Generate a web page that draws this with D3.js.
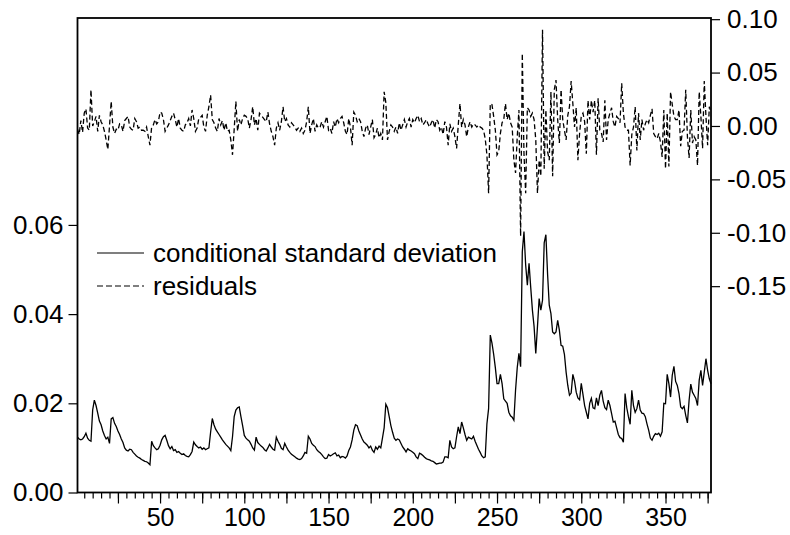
<!DOCTYPE html>
<html>
<head>
<meta charset="utf-8">
<script src="https://cdn.jsdelivr.net/npm/d3@7"></script>
<style>
  body { margin: 0; background: #fff; }
  text { font-family: "Liberation Sans", Arial, sans-serif; fill: #000; }
</style>
</head>
<body>
<script>
// conditional standard deviation, observations 1..377 (left scale)
const sdVals = [
  0.0124, 0.0120, 0.0118, 0.0120, 0.0125, 0.0133, 0.0122, 0.0117, 0.0115, 0.0185,
  0.0207, 0.0195, 0.0178, 0.0160, 0.0152, 0.0138, 0.0128, 0.0120, 0.0124, 0.0110,
  0.0165, 0.0168, 0.0155, 0.0148, 0.0138, 0.0130, 0.0120, 0.0112, 0.0100, 0.0095,
  0.0093, 0.0097, 0.0096, 0.0090, 0.0086, 0.0082, 0.0079, 0.0077, 0.0074, 0.0072,
  0.0070, 0.0069, 0.0066, 0.0062, 0.0115, 0.0105, 0.0100, 0.0096, 0.0098, 0.0106,
  0.0118, 0.0125, 0.0128, 0.0117, 0.0105, 0.0098, 0.0103, 0.0094, 0.0096, 0.0090,
  0.0092, 0.0088, 0.0085, 0.0087, 0.0083, 0.0081, 0.0080, 0.0085, 0.0092, 0.0113,
  0.0107, 0.0103, 0.0100, 0.0102, 0.0097, 0.0100, 0.0096, 0.0098, 0.0100, 0.0135,
  0.0166, 0.0152, 0.0142, 0.0136, 0.0130, 0.0124, 0.0118, 0.0113, 0.0108, 0.0104,
  0.0100, 0.0094, 0.0125, 0.0170, 0.0185, 0.0190, 0.0192, 0.0170, 0.0150, 0.0128,
  0.0122, 0.0118, 0.0115, 0.0108, 0.0100, 0.0095, 0.0124, 0.0112, 0.0108, 0.0104,
  0.0101, 0.0096, 0.0093, 0.0100, 0.0108, 0.0102, 0.0097, 0.0095, 0.0124, 0.0115,
  0.0108, 0.0099, 0.0096, 0.0110, 0.0102, 0.0095, 0.0090, 0.0086, 0.0083, 0.0080,
  0.0077, 0.0075, 0.0074, 0.0076, 0.0082, 0.0090, 0.0088, 0.0126, 0.0120, 0.0110,
  0.0106, 0.0103, 0.0096, 0.0092, 0.0089, 0.0085, 0.0080, 0.0076, 0.0077, 0.0085,
  0.0082, 0.0084, 0.0087, 0.0089, 0.0082, 0.0084, 0.0078, 0.0081, 0.0080, 0.0077,
  0.0082, 0.0094, 0.0102, 0.0118, 0.0140, 0.0152, 0.0150, 0.0138, 0.0129, 0.0120,
  0.0113, 0.0110, 0.0106, 0.0100, 0.0104, 0.0095, 0.0090, 0.0102, 0.0097, 0.0104,
  0.0100, 0.0122, 0.0145, 0.0198, 0.0190, 0.0170, 0.0150, 0.0135, 0.0122, 0.0117,
  0.0120, 0.0118, 0.0110, 0.0102, 0.0097, 0.0091, 0.0098, 0.0095, 0.0093, 0.0090,
  0.0087, 0.0080, 0.0076, 0.0088, 0.0086, 0.0083, 0.0079, 0.0076, 0.0074, 0.0073,
  0.0071, 0.0070, 0.0067, 0.0064, 0.0065, 0.0066, 0.0066, 0.0068, 0.0080, 0.0080,
  0.0078, 0.0117, 0.0102, 0.0098, 0.0100, 0.0125, 0.0147, 0.0132, 0.0158, 0.0145,
  0.0130, 0.0117, 0.0124, 0.0122, 0.0120, 0.0126, 0.0115, 0.0106, 0.0097, 0.0090,
  0.0082, 0.0078, 0.0080, 0.0154, 0.0188, 0.0353, 0.0335, 0.0310, 0.0280, 0.0244,
  0.0244, 0.0265, 0.0244, 0.0210, 0.0205, 0.0200, 0.0180, 0.0172, 0.0169, 0.0162,
  0.0230, 0.0280, 0.0312, 0.0282, 0.0540, 0.0585, 0.0510, 0.0465, 0.0514, 0.0460,
  0.0409, 0.0372, 0.0312, 0.0372, 0.0435, 0.0409, 0.0431, 0.0560, 0.0578, 0.0490,
  0.0420, 0.0401, 0.0360, 0.0356, 0.0360, 0.0386, 0.0364, 0.0330, 0.0328, 0.0310,
  0.0270, 0.0240, 0.0218, 0.0223, 0.0265, 0.0250, 0.0225, 0.0212, 0.0208, 0.0245,
  0.0220, 0.0195, 0.0180, 0.0165, 0.0200, 0.0211, 0.0190, 0.0188, 0.0212, 0.0195,
  0.0218, 0.0229, 0.0205, 0.0190, 0.0186, 0.0207, 0.0195, 0.0177, 0.0158, 0.0160,
  0.0145, 0.0130, 0.0123, 0.0121, 0.0113, 0.0222, 0.0190, 0.0170, 0.0153, 0.0229,
  0.0195, 0.0180, 0.0188, 0.0207, 0.0185, 0.0178, 0.0177, 0.0170, 0.0154, 0.0140,
  0.0122, 0.0117, 0.0126, 0.0132, 0.0130, 0.0133, 0.0126, 0.0136, 0.0200, 0.0199,
  0.0265, 0.0244, 0.0214, 0.0263, 0.0283, 0.0249, 0.0240, 0.0222, 0.0192, 0.0188,
  0.0193, 0.0173, 0.0156, 0.0207, 0.0243, 0.0225, 0.0218, 0.0211, 0.0195, 0.0252,
  0.0274, 0.0240, 0.0270, 0.0300, 0.0274, 0.0255, 0.0244
];

// residuals, same observations (right scale)
const residVals = [
  -0.003, -0.008, 0.005, -0.006, 0.012, 0.016, -0.002, -0.004, 0.034, 0.000,
  0.004, 0.009, -0.005, 0.010, 0.004, 0.001, -0.005, -0.013, -0.022, 0.000,
  0.023, -0.001, -0.007, -0.003, -0.004, 0.002, 0.001, -0.005, 0.005, 0.007,
  0.009, -0.001, -0.003, -0.004, 0.007, 0.004, -0.002, -0.001, -0.004, -0.004,
  -0.005, -0.001, -0.010, -0.018, -0.001, 0.001, 0.006, 0.002, 0.004, 0.013,
  0.012, 0.006, -0.005, -0.002, 0.001, 0.005, 0.009, 0.012, 0.006, -0.001,
  0.007, -0.002, -0.004, -0.005, 0.001, 0.003, 0.007, 0.000, 0.015, 0.007,
  -0.005, -0.002, 0.007, 0.008, 0.010, -0.001, -0.005, 0.010, 0.018, 0.029,
  0.006, 0.003, -0.002, -0.005, 0.007, 0.001, 0.005, -0.004, 0.003, -0.005,
  -0.004, -0.013, -0.027, -0.003, 0.023, -0.005, 0.006, 0.001, 0.007, 0.010,
  0.009, 0.007, -0.002, 0.006, 0.018, 0.001, 0.007, -0.004, 0.012, 0.010,
  0.008, 0.006, 0.004, 0.013, 0.002, -0.005, -0.010, -0.018, -0.002, 0.003,
  -0.004, 0.004, 0.018, 0.004, 0.007, 0.001, -0.001, 0.003, 0.001, -0.001,
  -0.004, -0.002, -0.005, -0.002, -0.007, -0.004, 0.004, 0.018, -0.007, 0.001,
  0.007, -0.005, 0.001, -0.002, -0.001, 0.004, -0.001, 0.004, 0.009, -0.004,
  -0.002, -0.007, 0.004, -0.001, 0.007, 0.003, 0.007, 0.009, 0.003, -0.005,
  -0.008, 0.007, -0.001, -0.018, 0.013, 0.010, 0.004, 0.007, 0.004, -0.005,
  -0.010, -0.002, 0.001, -0.008, -0.001, 0.006, -0.011, -0.008, -0.002, -0.011,
  -0.007, -0.013, 0.032, 0.022, -0.013, -0.005, 0.001, -0.001, -0.005, -0.001,
  -0.007, 0.003, -0.004, 0.001, 0.006, -0.001, 0.004, 0.007, -0.001, 0.006,
  0.003, 0.007, 0.010, 0.004, 0.007, 0.001, 0.003, 0.006, 0.002, -0.001,
  0.003, 0.006, -0.002, 0.006, 0.004, -0.004, -0.001, -0.008, 0.004, -0.001,
  -0.018, 0.002, -0.005, -0.002, -0.010, -0.021, 0.001, 0.021, -0.001, 0.006,
  0.001, -0.010, -0.001, 0.004, -0.001, 0.002, 0.001, -0.001, 0.001, -0.001,
  -0.002, -0.004, -0.012, -0.027, -0.063, 0.021, 0.020, 0.009, -0.004, -0.027,
  -0.024, -0.007, 0.003, 0.006, 0.021, 0.006, 0.012, 0.003, -0.001, -0.032,
  -0.044, -0.010, 0.015, -0.103, 0.068, -0.026, -0.063, 0.017, 0.015, 0.009,
  0.012, 0.006, -0.013, -0.063, -0.032, -0.047, 0.090, -0.040, 0.015, -0.024,
  -0.032, 0.032, -0.047, 0.034, 0.043, 0.006, -0.016, 0.034, 0.006, -0.004,
  -0.013, 0.010, 0.018, 0.042, 0.021, -0.001, 0.017, -0.032, -0.007, 0.009,
  0.012, 0.004, -0.026, 0.024, 0.006, 0.024, 0.013, 0.024, -0.027, 0.026,
  -0.004, -0.007, -0.015, 0.024, -0.013, 0.006, 0.012, 0.017, 0.004, -0.001,
  0.009, 0.007, 0.003, 0.040, 0.012, -0.001, -0.004, -0.004, -0.037, -0.008,
  -0.001, 0.018, -0.023, 0.012, -0.013, 0.006, -0.004, 0.002, 0.006, 0.003,
  0.010, 0.016, -0.007, -0.010, -0.012, -0.007, -0.015, -0.029, 0.015, -0.040,
  0.012, -0.038, 0.032, 0.020, 0.009, 0.006, 0.006, 0.015, -0.019, -0.005,
  -0.004, 0.034, -0.010, -0.030, 0.015, -0.016, -0.010, -0.013, -0.037, 0.032,
  0.009, -0.021, 0.042, 0.009, -0.018, 0.018, 0.013
];

const leftTicks = [0.00, 0.02, 0.04, 0.06];
const rightTicks = [0.10, 0.05, 0.00, -0.05, -0.10, -0.15];
const xLabels = [50, 100, 150, 200, 250, 300, 350];
const legendNames = ["conditional standard deviation", "residuals"];

const width = 790, height = 535;
const plot = {left: 77.5, right: 711, top: 18, bottom: 492.5};
const fontSize = 26;

const svg = d3.select('body')
    .append('svg')
    .attr('width', width)
    .attr('height', height);

const n = sdVals.length;
const x = d3.scaleLinear().domain([1, n]).range([plot.left, plot.right]);
const yLeft = d3.scaleLinear().domain([0, 0.1064]).range([plot.bottom, plot.top]);
const yRight = d3.scaleLinear().domain([-0.3432, 0.1011]).range([plot.bottom, plot.top]);

const fmt = d => d.toFixed(2);

// left axis
const leftAxis = svg.append('g')
    .attr('transform', 'translate(' + plot.left + ',0)')
    .call(d3.axisLeft(yLeft).tickValues(leftTicks).tickSize(9).tickPadding(5).tickFormat(fmt));

// right axis
const rightAxis = svg.append('g')
    .attr('transform', 'translate(' + plot.right + ',0)')
    .call(d3.axisRight(yRight).tickValues(rightTicks).tickSize(9).tickPadding(7).tickFormat(fmt));

// bottom axis: minor every 5, longer every 25, labels every 50
const minorAxis = svg.append('g')
    .attr('transform', 'translate(0,' + plot.bottom + ')')
    .call(d3.axisBottom(x).tickValues(d3.range(5, n + 1, 5)).tickSize(6).tickFormat(''));

const majorAxis = svg.append('g')
    .attr('transform', 'translate(0,' + plot.bottom + ')')
    .call(d3.axisBottom(x).tickValues(d3.range(25, n + 1, 25)).tickSize(11).tickPadding(5)
        .tickFormat(d => xLabels.includes(d) ? d : ''));

[leftAxis, rightAxis, minorAxis, majorAxis].forEach(g => {
    g.select('.domain').remove();
    g.selectAll('line').attr('stroke', '#000').attr('stroke-width', 1.2);
    g.selectAll('text').attr('font-size', fontSize).attr('font-family', '"Liberation Sans", Arial, sans-serif');
});
majorAxis.selectAll('text').attr('font-size', 25);

// series
const sdLine = d3.line()
    .x((d, i) => x(i + 1))
    .y(d => yLeft(d));

const residLine = d3.line()
    .x((d, i) => x(i + 1))
    .y(d => yRight(d));

svg.append('path')
    .datum(residVals)
    .attr('fill', 'none')
    .attr('stroke', '#000')
    .attr('stroke-width', 1.3)
    .attr('stroke-dasharray', '5,3')
    .attr('d', residLine);

svg.append('path')
    .datum(sdVals)
    .attr('fill', 'none')
    .attr('stroke', '#000')
    .attr('stroke-width', 1.3)
    .attr('d', sdLine);

// frame
svg.append('rect')
    .attr('x', plot.left)
    .attr('y', plot.top)
    .attr('width', plot.right - plot.left)
    .attr('height', plot.bottom - plot.top)
    .attr('fill', 'none')
    .attr('stroke', '#000')
    .attr('stroke-width', 1.8);

// legend
const legend = svg.append('g').attr('transform', 'translate(97,253)');
legendNames.forEach((name, i) => {
    legend.append('line')
        .attr('x1', 0).attr('x2', 47)
        .attr('y1', i * 33).attr('y2', i * 33)
        .attr('stroke', '#000')
        .attr('stroke-width', 1.2)
        .attr('stroke-dasharray', i === 1 ? '6,3' : null);
    legend.append('text')
        .attr('x', 56)
        .attr('y', i * 33)
        .attr('dy', '0.35em')
        .attr('font-size', fontSize)
        .text(name);
});
</script>
</body>
</html>
